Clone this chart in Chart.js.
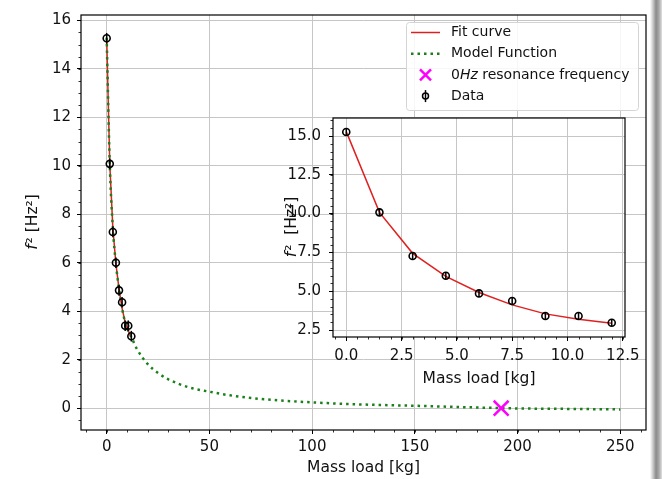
<!DOCTYPE html>
<html>
<head>
<meta charset="utf-8">
<script src="https://cdn.jsdelivr.net/npm/chart.js@4.4.0/dist/chart.umd.min.js"></script>
<style>
  body { margin: 0; background: #fff; }
  #wrap { position: relative; width: 662px; height: 479px; overflow: hidden; background: #fff; }
  #wrap canvas { position: absolute; left: 0; top: 0; }
  #shadow { position: absolute; right: 0; top: 0; width: 12px; height: 479px;
    background: linear-gradient(to right, #fff 0%, #c8c8c8 25%, #8a8a8a 50%, #a8a8a8 75%, #e0e0e0 100%); }
</style>
</head>
<body>
<div id="wrap">
  <canvas id="main" width="662" height="479"></canvas>
  <canvas id="inset" width="662" height="479"></canvas>
  <div id="shadow"></div>
</div>
<script>
// measured points
const massLoad = [0, 1.5, 3, 4.5, 6, 7.5, 9, 10.5, 12];
const freqSq = [15.26, 10.08, 7.27, 6.0, 4.86, 4.37, 3.4, 3.4, 2.97];
const freqSqErr = [0.22, 0.22, 0.22, 0.22, 0.22, 0.22, 0.22, 0.22, 0.22];
// fitted curve at the data masses
const fitSq = [15.28, 10.08, 7.44, 5.95, 4.92, 4.12, 3.54, 3.19, 2.93];
// model function, extended out to 250 kg
const modelMass = [0, 1.5, 3, 4.5, 6, 7.5, 9, 10.5, 12, 15, 20, 25, 30, 40, 50, 60, 75, 100, 125, 150, 175, 200, 225, 250];
const modelSq = [15.28, 10.08, 7.44, 5.95, 4.92, 4.12, 3.54, 3.19, 2.93, 2.4, 1.82, 1.45, 1.19, 0.86, 0.68, 0.53, 0.38, 0.24, 0.15, 0.1, 0.04, -0.01, -0.03, -0.05];
// 0 Hz resonance
const zeroMass = [192];
const zeroSq = [0];

const mainXTicks = [0, 50, 100, 150, 200, 250];
const mainYTicks = [0, 2, 4, 6, 8, 10, 12, 14, 16];
const insetXTicks = [0, 2.5, 5, 7.5, 10, 12.5];
const insetYTicks = [2.5, 5, 7.5, 10, 12.5, 15];

const legendLabels = ['Fit curve', 'Model Function', '0Hz resonance frequency', 'Data'];

const FONT = 'DejaVu Sans';
const TICK_SIZE = 15;
const LABEL_SIZE = 15.5;
const RED = '#e02020';
const GREEN = '#1a801a';
const MAGENTA = '#ff00ff';

const pts = (xs, ys) => xs.map((x, i) => ({ x: x, y: ys[i] }));

// minor ticks on bottom/left spines
const minorTicks = {
  id: 'minorTicks',
  afterDraw(chart, args, opts) {
    const { ctx, chartArea: a } = chart;
    const sx = chart.scales.x, sy = chart.scales.y;
    ctx.save();
    ctx.strokeStyle = '#000';
    ctx.lineWidth = 0.8;
    let n0 = Math.ceil(sx.min / opts.x), n1 = Math.floor(sx.max / opts.x);
    for (let n = n0; n <= n1; n++) {
      const px = Math.round(sx.getPixelForValue(n * opts.x)) + 0.5;
      ctx.beginPath(); ctx.moveTo(px, a.bottom); ctx.lineTo(px, a.bottom + 2.5); ctx.stroke();
    }
    n0 = Math.ceil(sy.min / opts.y); n1 = Math.floor(sy.max / opts.y);
    for (let n = n0; n <= n1; n++) {
      const py = Math.round(sy.getPixelForValue(n * opts.y)) + 0.5;
      ctx.beginPath(); ctx.moveTo(a.left, py); ctx.lineTo(a.left - 2.5, py); ctx.stroke();
    }
    ctx.restore();
  }
};

// spines all round
const frame = {
  id: 'frame',
  beforeDraw(chart, args, opts) {
    if (!opts.fill) return;
    const { ctx, chartArea: a } = chart;
    ctx.save();
    ctx.fillStyle = '#fff';
    ctx.fillRect(a.left, a.top, a.right - a.left, a.bottom - a.top);
    ctx.restore();
  },
  afterDatasetsDraw(chart) {
    const { ctx, chartArea: a } = chart;
    ctx.save();
    ctx.strokeStyle = '#000';
    ctx.lineWidth = 1.2;
    ctx.strokeRect(a.left, a.top, a.right - a.left, a.bottom - a.top);
    ctx.restore();
  }
};

// vertical error bars for the data set
const errorBars = {
  id: 'errorBars',
  afterDatasetsDraw(chart) {
    const { ctx, chartArea: a } = chart;
    const sx = chart.scales.x, sy = chart.scales.y;
    ctx.save();
    ctx.beginPath();
    ctx.rect(a.left, a.top, a.right - a.left, a.bottom - a.top);
    ctx.clip();
    ctx.strokeStyle = '#000';
    ctx.lineWidth = 1.5;
    massLoad.forEach((m, i) => {
      const px = sx.getPixelForValue(m);
      ctx.beginPath();
      ctx.moveTo(px, sy.getPixelForValue(freqSq[i] - freqSqErr[i]));
      ctx.lineTo(px, sy.getPixelForValue(freqSq[i] + freqSqErr[i]));
      ctx.stroke();
    });
    ctx.restore();
  }
};

// y axis label with italic f
const yTitle = {
  id: 'yTitle',
  afterDraw(chart, args, opts) {
    const { ctx, chartArea: a } = chart;
    const reg = LABEL_SIZE + 'px "' + FONT + '"';
    const ital = 'italic ' + reg;
    ctx.save();
    ctx.translate(opts.x, (a.top + a.bottom) / 2);
    ctx.rotate(-Math.PI / 2);
    ctx.fillStyle = '#111';
    ctx.textBaseline = 'middle';
    ctx.textAlign = 'left';
    const rest = opts.text.slice(1);
    ctx.font = ital;
    const wf = ctx.measureText('f').width;
    ctx.font = reg;
    const wr = ctx.measureText(rest).width;
    const x0 = -(wf + wr) / 2;
    ctx.font = ital;
    ctx.fillText('f', x0, 0);
    ctx.font = reg;
    ctx.fillText(rest, x0 + wf + 1, 0);
    ctx.restore();
  }
};

// legend box in upper right of main axes
const boxLegend = {
  id: 'boxLegend',
  afterDraw(chart) {
    const { ctx, chartArea: a } = chart;
    const w = 232, h = 88;
    const bx = a.right - 8 - w, by = a.top + 7;
    ctx.save();
    ctx.fillStyle = 'rgba(255,255,255,0.85)';
    ctx.strokeStyle = '#d4d4d4';
    ctx.lineWidth = 1;
    ctx.beginPath();
    ctx.roundRect(bx + 0.5, by + 0.5, w, h, 3);
    ctx.fill();
    ctx.stroke();
    const hx0 = bx + 5, hx1 = bx + 34, hc = (hx0 + hx1) / 2, tx = bx + 45;
    legendLabels.forEach((lab, i) => {
      const y = by + 10.5 + i * 21.2;
      ctx.save();
      if (i === 0) {
        ctx.strokeStyle = RED; ctx.lineWidth = 1.5;
        ctx.beginPath(); ctx.moveTo(hx0, y); ctx.lineTo(hx1, y); ctx.stroke();
      } else if (i === 1) {
        ctx.strokeStyle = GREEN; ctx.lineWidth = 2.5; ctx.setLineDash([2.5, 4]);
        ctx.beginPath(); ctx.moveTo(hx0, y); ctx.lineTo(hx1, y); ctx.stroke();
      } else if (i === 2) {
        ctx.strokeStyle = MAGENTA; ctx.lineWidth = 2.5; const r = 5.5;
        ctx.beginPath(); ctx.moveTo(hc - r, y - r); ctx.lineTo(hc + r, y + r);
        ctx.moveTo(hc - r, y + r); ctx.lineTo(hc + r, y - r); ctx.stroke();
      } else {
        ctx.strokeStyle = '#000'; ctx.lineWidth = 1.5;
        ctx.beginPath(); ctx.moveTo(hc, y - 6); ctx.lineTo(hc, y + 6); ctx.stroke();
        ctx.beginPath(); ctx.arc(hc, y, 3, 0, Math.PI * 2); ctx.stroke();
      }
      ctx.restore();
      ctx.fillStyle = '#111';
      ctx.textBaseline = 'middle';
      ctx.textAlign = 'left';
      let x = tx;
      lab.split(/(Hz)/).forEach(part => {
        ctx.font = (part === 'Hz' ? 'italic ' : '') + '14px "' + FONT + '"';
        ctx.fillText(part, x, y);
        x += ctx.measureText(part).width;
      });
    });
    ctx.restore();
  }
};

function axis(pos, min, max, tickList, fit, pad, fmt, title, titlePad) {
  return {
    type: 'linear',
    position: pos,
    min: min,
    max: max,
    afterBuildTicks: s => { s.ticks = tickList.map(v => ({ value: v })); },
    afterFit: fit,
    border: { display: false },
    grid: { color: '#c6c6c6', lineWidth: 1, drawTicks: true, tickLength: 4, tickColor: '#000', tickWidth: 1 },
    ticks: { color: '#111', padding: pad, font: { family: FONT, size: TICK_SIZE }, callback: fmt },
    title: title ? { display: true, text: title, color: '#111', font: { family: FONT, size: LABEL_SIZE }, padding: { top: 0, bottom: titlePad } } : { display: false }
  };
}

const baseOpts = {
  responsive: false,
  animation: false,
  devicePixelRatio: 1,
  events: []
};

new Chart(document.getElementById('main'), {
  type: 'scatter',
  data: {
    datasets: [
      { label: 'Data', data: pts(massLoad, freqSq), pointStyle: 'circle', pointRadius: 3.5,
        borderColor: '#000', borderWidth: 1.6, backgroundColor: 'rgba(0,0,0,0)' },
      { label: '0Hz resonance frequency', data: pts(zeroMass, zeroSq), pointStyle: 'crossRot', pointRadius: 10.5,
        borderColor: MAGENTA, borderWidth: 2.5 },
      { label: 'Model Function', data: pts(modelMass, modelSq), showLine: true, pointRadius: 0,
        borderColor: GREEN, borderWidth: 2.5, borderDash: [2.5, 4], borderCapStyle: 'butt', cubicInterpolationMode: 'monotone' },
      { label: 'Fit curve', data: pts(massLoad, fitSq), showLine: true, pointRadius: 0,
        borderColor: RED, borderWidth: 1.5 }
    ]
  },
  options: Object.assign({}, baseOpts, {
    layout: { padding: { left: 0, top: 10, right: 16, bottom: 0 } },
    scales: {
      x: axis('bottom', -12.5, 262.5, mainXTicks, s => { s.height = 49; }, 4, v => String(v), 'Mass load [kg]', 2),
      y: axis('left', -0.9, 16.22, mainYTicks, s => { s.width = 81; }, 6, v => String(v), null, 0)
    },
    plugins: {
      legend: { display: false },
      tooltip: { enabled: false },
      minorTicks: { x: 10, y: 0.5 },
      frame: { fill: false },
      yTitle: { x: 33, text: 'f² [Hz²]' }
    }
  }),
  plugins: [frame, minorTicks, errorBars, yTitle, boxLegend]
});

new Chart(document.getElementById('inset'), {
  type: 'scatter',
  data: {
    datasets: [
      { label: 'Data', data: pts(massLoad, freqSq), pointStyle: 'circle', pointRadius: 3.5,
        borderColor: '#000', borderWidth: 1.6, backgroundColor: 'rgba(0,0,0,0)' },
      { label: 'Fit curve', data: pts(massLoad, fitSq), showLine: true, pointRadius: 0,
        borderColor: RED, borderWidth: 1.5 }
    ]
  },
  options: Object.assign({}, baseOpts, {
    layout: { padding: { left: 263, top: 118, right: 37, bottom: 82 } },
    scales: {
      x: axis('bottom', -0.6, 12.6, insetXTicks, s => { s.height = 60; }, 6, v => v.toFixed(1), 'Mass load [kg]', 9),
      y: axis('left', 2.05, 16.16, insetYTicks, s => { s.width = 70; }, 8, v => v.toFixed(1), null, 0)
    },
    plugins: {
      legend: { display: false },
      tooltip: { enabled: false },
      minorTicks: { x: 0.5, y: 0.5 },
      frame: { fill: true },
      yTitle: { x: 292, text: 'f²  [Hz²]' }
    }
  }),
  plugins: [frame, minorTicks, errorBars, yTitle]
});
</script>
</body>
</html>
